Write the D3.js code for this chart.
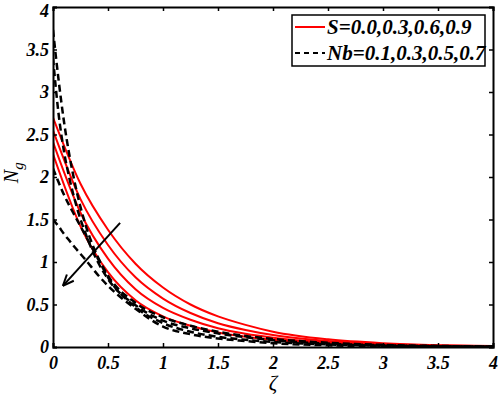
<!DOCTYPE html>
<html>
<head>
<meta charset="utf-8">
<script src="https://cdn.jsdelivr.net/npm/d3@7"></script>
<style>
  body { margin: 0; background: #fff; }
  svg text { font-family: "Liberation Serif", "Times New Roman", serif; }
</style>
</head>
<body>
<div id="graphContainer"></div>
<script>
// ---- data ----
const zetaS = [0, 0.25, 0.5, 0.75, 1, 1.25, 1.5, 1.75, 2, 2.5, 3, 3.5, 4];
const redS00 = [2.70, 1.92, 1.38, 0.98, 0.70, 0.50, 0.36, 0.26, 0.18, 0.09, 0.045, 0.022, 0.011];
const redS03 = [2.55, 1.74, 1.20, 0.82, 0.57, 0.40, 0.28, 0.20, 0.14, 0.07, 0.034, 0.017, 0.008];
const redS06 = [2.41, 1.58, 1.04, 0.68, 0.46, 0.32, 0.22, 0.155, 0.11, 0.055, 0.027, 0.013, 0.006];
const redS09 = [2.27, 1.42, 0.88, 0.55, 0.36, 0.25, 0.17, 0.12, 0.085, 0.042, 0.02, 0.01, 0.005];

const zetaNb = [0, 0.05, 0.1, 0.15, 0.2, 0.3, 0.4, 0.5, 0.75, 1, 1.25, 1.5, 1.75, 2, 2.5, 3, 3.5, 4];
const dashNb01 = [3.73, 3.15, 2.65, 2.25, 1.92, 1.42, 1.08, 0.84, 0.52, 0.35, 0.25, 0.18, 0.13, 0.095, 0.05, 0.025, 0.012, 0.006];
const dashNb03 = [3.40, 2.75, 2.30, 1.98, 1.72, 1.32, 1.02, 0.80, 0.49, 0.31, 0.22, 0.16, 0.115, 0.08, 0.04, 0.02, 0.01, 0.005];
const dashNb05 = [2.10, 1.94, 1.79, 1.66, 1.54, 1.30, 1.06, 0.82, 0.47, 0.28, 0.18, 0.12, 0.085, 0.06, 0.03, 0.015, 0.007, 0.003];
const dashNb07 = [1.50, 1.42, 1.33, 1.25, 1.17, 1.02, 0.86, 0.72, 0.45, 0.24, 0.15, 0.10, 0.07, 0.045, 0.02, 0.01, 0.005, 0.002];

const xTicks = [0, 0.5, 1, 1.5, 2, 2.5, 3, 3.5, 4];
const yTicks = [0, 0.5, 1, 1.5, 2, 2.5, 3, 3.5, 4];
const legendLabels = ["S=0.0,0.3,0.6,0.9", "Nb=0.1,0.3,0.5,0.7"];
const arrowFrom = [0.61, 1.46];
const arrowTo = [0.09, 0.72];

const margin = { top: 7, right: 5, bottom: 48, left: 53 };
const W = 498, H = 395;
const width = W - margin.left - margin.right;
const height = H - margin.top - margin.bottom;

const svg = d3.select("#graphContainer").append("svg")
    .attr("width", W)
    .attr("height", H);
const g = svg.append("g")
    .attr("transform", `translate(${margin.left},${margin.top})`);

const x = d3.scaleLinear().domain([0, 4]).range([0, width]);
const y = d3.scaleLinear().domain([0, 4]).range([height, 0]);

// clip so lines stay in the box
svg.append("clipPath").attr("id", "plotClip")
  .append("rect").attr("width", width).attr("height", height);

const line = d3.line()
    .x(d => x(d[0]))
    .y(d => y(d[1]))
    .curve(d3.curveMonotoneX);

const plot = g.append("g").attr("clip-path", "url(#plotClip)");

[redS00, redS03, redS06, redS09].forEach(vals => {
    plot.append("path")
        .datum(zetaS.map((z, i) => [z, vals[i]]))
        .attr("d", line)
        .attr("fill", "none")
        .attr("stroke", "#ff0000")
        .attr("stroke-width", 2);
});

[dashNb01, dashNb03, dashNb05, dashNb07].forEach(vals => {
    plot.append("path")
        .datum(zetaNb.map((z, i) => [z, vals[i]]))
        .attr("d", line)
        .attr("fill", "none")
        .attr("stroke", "#000")
        .attr("stroke-width", 2.5)
        .attr("stroke-dasharray", "7,4");
});

// arrow
const ax1 = x(arrowFrom[0]), ay1 = y(arrowFrom[1]);
const ax2 = x(arrowTo[0]), ay2 = y(arrowTo[1]);
g.append("line")
    .attr("x1", ax1).attr("y1", ay1).attr("x2", ax2).attr("y2", ay2)
    .attr("stroke", "#000").attr("stroke-width", 2);
const ang = Math.atan2(ay1 - ay2, ax1 - ax2);
[0.4, -0.4].forEach(da => {
    g.append("line")
        .attr("x1", ax2).attr("y1", ay2)
        .attr("x2", ax2 + 12 * Math.cos(ang + da))
        .attr("y2", ay2 + 12 * Math.sin(ang + da))
        .attr("stroke", "#000").attr("stroke-width", 2);
});

// axes, inward ticks on all four sides
const tickFmt = d => d3.format("")(d);
g.append("g").attr("transform", `translate(0,${height})`)
    .call(d3.axisBottom(x).tickValues(xTicks).tickSize(-4).tickPadding(9).tickFormat(tickFmt));
const yAxis = g.append("g")
    .call(d3.axisLeft(y).tickValues(yTicks).tickSize(-4).tickPadding(4).tickFormat(tickFmt));
g.append("g")
    .call(d3.axisTop(x).tickValues(xTicks).tickSize(-4).tickFormat(""));
g.append("g").attr("transform", `translate(${width},0)`)
    .call(d3.axisRight(y).tickValues(yTicks).tickSize(-4).tickFormat(""));

g.selectAll(".domain").attr("stroke", "#000").attr("stroke-width", 2);
g.selectAll(".tick line").attr("stroke", "#000").attr("stroke-width", 1.5);
g.selectAll(".tick text")
    .style("font-family", "'Liberation Serif', serif")
    .style("font-size", "18px")
    .style("font-weight", "bold")
    .style("font-style", "italic")
    .attr("fill", "#000");
// top label sits at the very edge; nudge it down so it isn't clipped
yAxis.selectAll(".tick text").filter(d => d === 4).attr("dy", "0.55em");

// axis titles
svg.append("text")
    .attr("x", margin.left + x(2))
    .attr("y", 390)
    .attr("text-anchor", "middle")
    .style("font-size", "21px")
    .style("font-style", "italic")
    .text("ζ");

const yt = svg.append("text")
    .attr("transform", `translate(18,${margin.top + y(2.05)}) rotate(-90)`)
    .attr("text-anchor", "middle")
    .style("font-size", "20px")
    .style("font-style", "italic");
yt.append("tspan").text("N");
yt.append("tspan").attr("dy", 5).style("font-size", "15px").text("g");

// legend
const legend = svg.append("g").attr("transform", "translate(292,15)");
legend.append("rect")
    .attr("width", 193).attr("height", 51)
    .attr("fill", "#fff").attr("stroke", "#000").attr("stroke-width", 1.5);
const legendStyles = [
    { stroke: "#ff0000", dash: null },
    { stroke: "#000", dash: "5,4" }
];
legendLabels.forEach((lab, i) => {
    const ly = 12 + i * 26;
    legend.append("line")
        .attr("x1", 3).attr("x2", 33).attr("y1", ly).attr("y2", ly)
        .attr("stroke", legendStyles[i].stroke)
        .attr("stroke-width", 2)
        .attr("stroke-dasharray", legendStyles[i].dash);
    legend.append("text")
        .attr("x", 35).attr("y", ly + 7)
        .style("font-size", "21px")
        .style("font-weight", "bold")
        .style("font-style", "italic")
        .text(lab);
});
</script>
</body>
</html>
